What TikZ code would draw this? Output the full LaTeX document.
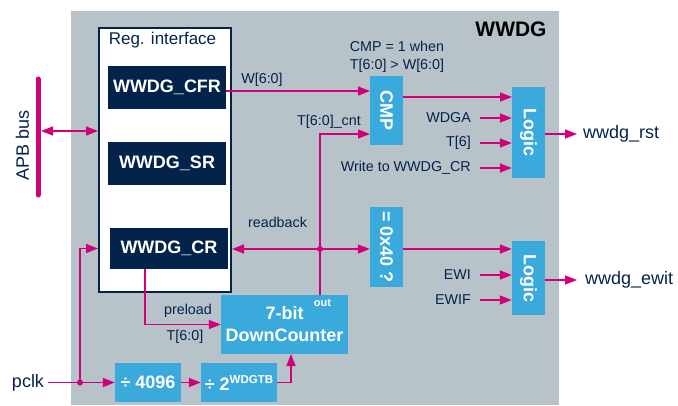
\documentclass[tikz,border=0pt]{standalone}
\usepackage{fontspec}
\usepackage{graphicx}
\setmainfont{Liberation Sans}
\usetikzlibrary{arrows.meta}
\definecolor{wgrey}{HTML}{B8C2C9}
\definecolor{wnavy}{HTML}{03234B}
\definecolor{wblue}{HTML}{3AA9DB}
\definecolor{wpink}{HTML}{D1007A}
\newcommand{\smallfnt}{\fontsize{14.3}{18}\selectfont}
\newcommand{\bigfnt}{\fontsize{18}{22}\selectfont}
\begin{document}
\begin{tikzpicture}[x=1pt,y=-1pt,>={Triangle[length=12pt,width=9pt]},
	lbl/.style={text=wnavy,font=\smallfnt,inner sep=0pt},
	sig/.style={wpink,line width=1.5pt,->},
	reg/.style={fill=wnavy,text=white,font=\bigfnt\bfseries,minimum width=118pt,minimum height=43pt,inner sep=0pt},
	blk/.style={fill=wblue,text=white,font=\bigfnt\bfseries,inner sep=0pt}]
	\useasboundingbox (0,0) rectangle (678,405);
	\fill [wgrey] (71,11) rectangle (559,405);
	\node [font=\fontsize{21}{24}\selectfont\bfseries,inner sep=0pt] at (511,29) (title) {WWDG};
	\node [draw=wnavy,line width=2pt,fill=white,minimum width=132pt,minimum height=264pt,inner sep=0pt] at (165,160) (ri) {};
	\node [lbl,font=\fontsize{17}{20}\selectfont] at (162.5,40) (ritxt) {Reg. interface};
	\node [reg] at (167,87.5) (cfr) {WWDG\_CFR};
	\node [reg] at (167,163.5) (sr) {WWDG\_SR};
	\node [reg,minimum height=41pt] at (169,248.5) (cr) {WWDG\_CR};
	\node [blk,minimum width=33pt,minimum height=69pt] at (386.5,110.5) (cmp) {\rotatebox{-90}{CMP}};
	\node [blk,minimum width=33pt,minimum height=91pt] at (528.5,132.5) (logr) {\rotatebox{-90}{Logic}};
	\node [blk,minimum width=33pt,minimum height=80pt] at (386.5,247) (cmpz) {\rotatebox{-90}{= 0x40 ?}};
	\node [blk,minimum width=33pt,minimum height=74pt] at (528.5,278) (loge) {\rotatebox{-90}{Logic}};
	\node [blk,minimum width=127pt,minimum height=59pt,align=center] at (284.5,324.5) (cnt) {7-bit\\DownCounter};
	\node [text=white,font=\fontsize{11}{12}\selectfont\bfseries,inner sep=0pt] at (322.5,303) (cntout) {out};
	\node [blk,minimum width=66pt,minimum height=39pt] at (148,382.5) (dva) {÷ 4096};
	\node [blk,minimum width=76pt,minimum height=39pt] at (239,382.5) (dvb) {÷ 2\raisebox{7pt}{\fontsize{11.5}{12}\selectfont WDGTB}};
	\node [lbl] at (262,80) (wlbl) {W[6:0]};
	\node [lbl] at (329,122) (tlbl) {T[6:0]\_cnt};
	\node [lbl,align=center] at (397,57) (cmplbl) {CMP = 1 when\\T[6:0] > W[6:0]};
	\node [lbl] at (277.5,222) (rblbl) {readback};
	\node [lbl] at (188,311) (prelbl) {preload};
	\node [lbl] at (185,337) (pretlbl) {T[6:0]};
	\node [lbl,font=\bigfnt,rotate=90] at (22.5,145) (apb) {APB bus};
	\node [lbl,font=\bigfnt,inner xsep=4pt] at (28,382.5) (pclk) {pclk};
	\node [lbl,font=\bigfnt,anchor=west,inner xsep=6pt] at (577,134) (rst) {wwdg\_rst};
	\node [lbl,font=\bigfnt,anchor=west,inner xsep=8pt] at (577,280) (ewit) {wwdg\_ewit};
	\coordinate (bust) at (38,79);
	\coordinate (busb) at (38,195);
	\coordinate (busa) at (41,131);
	\coordinate (win) at (370,91);
	\coordinate (tin) at (370,134);
	\coordinate (jrb) at (320,249);
	\coordinate (lra) at (512,97);
	\coordinate (pre) at (145,324.5);
	\coordinate (jclk) at (80,382.5);
	\coordinate (ckin) at (291,354);
	\draw [wpink,line width=5pt,line cap=round] (bust) -- (busb);
	\draw [sig,<->] (busa) -- (ri.west |- busa);
	\draw [sig] (cfr.east |- win) -- (win);
	\draw [sig] (cnt.north -| jrb) |- (tin);
	\draw [sig] (jrb) -- (ri.east |- jrb);
	\draw [sig] (jrb) -- (cmpz.west |- jrb);
	\fill [wpink] (jrb) circle (3pt);
	\draw [sig] (cmp.east |- lra) -- (lra);
	\foreach \y/\t/\n in {118/WDGA/wdga,143/T[6]/tsix,168/Write to WWDG\_CR/wrcr}{
		\node [lbl,anchor=east,inner xsep=9pt] at (480,\y) (\n) {\t};
		\draw [sig] (\n.east) -- (logr.west |- \n.east);
	}
	\draw [sig] (logr.east |- rst) -- (rst.west);
	\draw [sig] (cmpz.east |- jrb) -- (loge.west |- jrb);
	\foreach \y/\t/\n in {275/EWI/ewi,300/EWIF/ewif}{
		\node [lbl,anchor=east,inner xsep=9pt] at (480,\y) (\n) {\t};
		\draw [sig] (\n.east) -- (loge.west |- \n.east);
	}
	\draw [sig] (loge.east |- ewit) -- (ewit.west);
	\draw [sig] (cr.south -| pre) |- (cnt.west);
	\draw [sig] (pclk.east) -- (dva.west);
	\draw [sig] (jclk) |- (ri.west |- cr);
	\fill [wpink] (jclk) circle (3pt);
	\draw [sig] (dva) -- (dvb);
	\draw [sig] (dvb.east) -| (ckin);
\end{tikzpicture}
\end{document}
